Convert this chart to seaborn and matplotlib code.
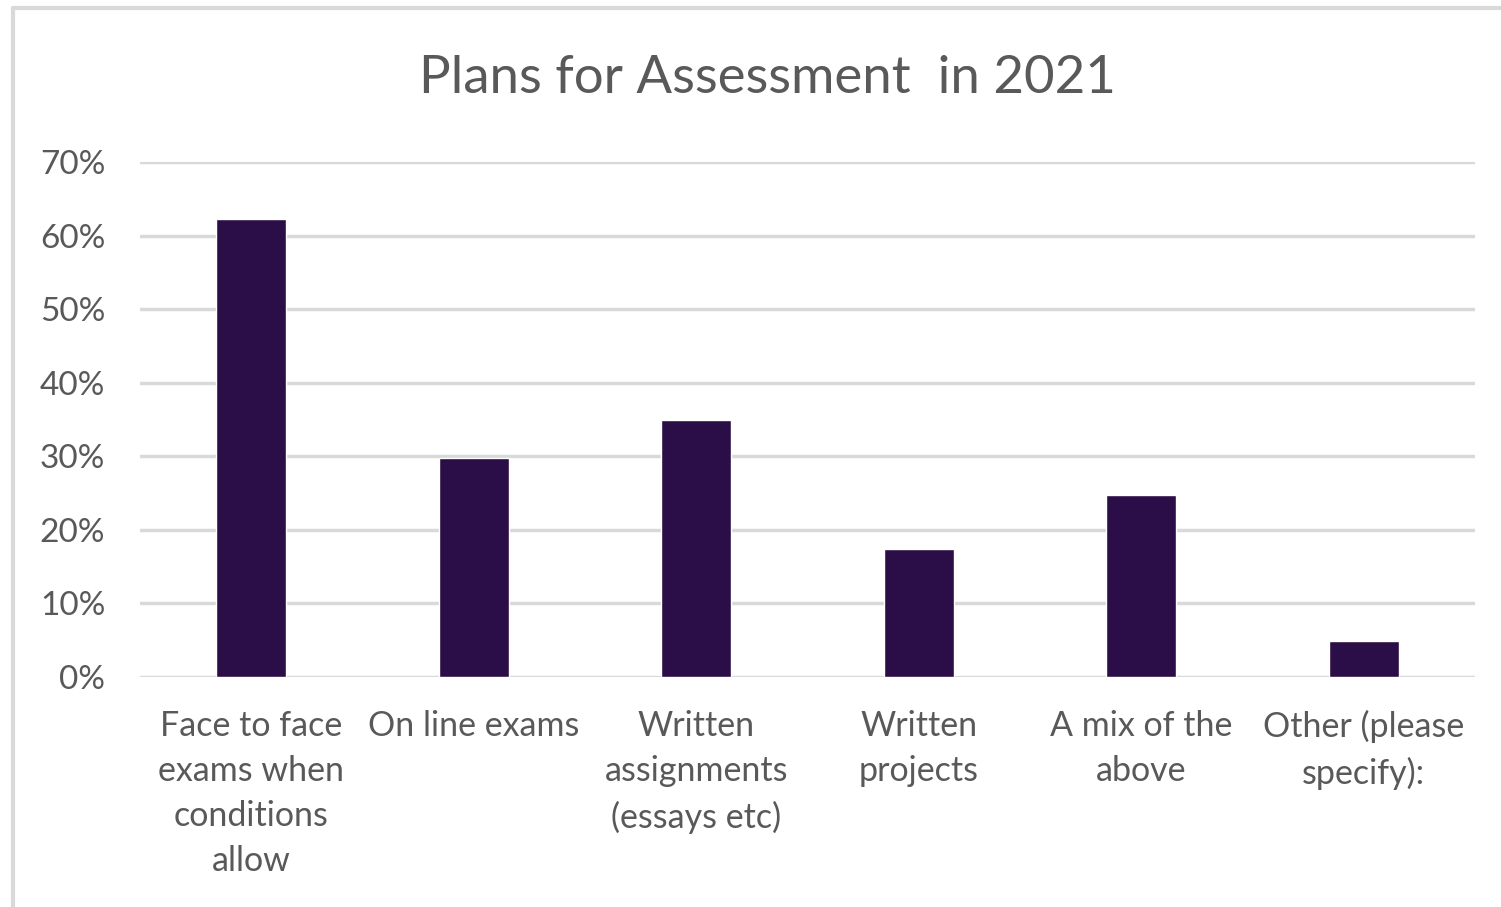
import matplotlib
matplotlib.use("Agg")
import matplotlib.pyplot as plt
import seaborn as sns
import pandas as pd
from matplotlib.lines import Line2D
from matplotlib.ticker import PercentFormatter

categories = [
    "Face to face\nexams when\nconditions\nallow",
    "On line exams",
    "Written\nassignments\n(essays etc)",
    "Written\nprojects",
    "A mix of the\nabove",
    "Other (please\nspecify):",
]
shares = [0.622, 0.297, 0.349, 0.174, 0.248, 0.049]
yticks = [0.0, 0.1, 0.2, 0.3, 0.4, 0.5, 0.6, 0.7]

sns.set_theme(style="white")
plt.rcParams["font.family"] = ["Lato", "DejaVu Sans"]

text_col = "#595959"
grid_col = "#d9d9d9"
bar_col = "#2b0d48"

df = pd.DataFrame({"category": categories, "share": shares})

fig = plt.figure(figsize=(15.01, 9.07), dpi=100)
ax = fig.add_axes([0.0933, 0.2536, 0.8894, 0.5678])

sns.barplot(data=df, x="category", y="share", color=bar_col, width=0.315,
            saturation=1, ax=ax, zorder=3)

ax.set_ylim(0, 0.7)
ax.set_xlim(-0.5, 5.5)
ax.set_yticks(yticks)
ax.yaxis.set_major_formatter(PercentFormatter(1.0, decimals=0))
ax.grid(axis="y", color=grid_col, linewidth=2.5, zorder=0)
for s in ax.spines.values():
    s.set_visible(False)
ax.tick_params(axis="y", length=0, pad=25, labelsize=24, labelcolor=text_col)
ax.tick_params(axis="x", length=0, pad=24, labelsize=24.5, labelcolor=text_col)
for lbl in ax.get_xticklabels():
    lbl.set_linespacing(1.5)
ax.set_xlabel("")
ax.set_ylabel("")

fig.text(0.511, 0.914, "Plans for Assessment  in 2021", ha="center", va="center",
         fontsize=38, color=text_col)

# light frame along top and left edges
fig.add_artist(Line2D([13 / 1501, 1.0], [1 - 8 / 907, 1 - 8 / 907],
                      color=grid_col, linewidth=3, transform=fig.transFigure))
fig.add_artist(Line2D([13 / 1501, 13 / 1501], [0.0, 1 - 8 / 907],
                      color=grid_col, linewidth=3, transform=fig.transFigure))

fig.savefig("out.png", dpi=100, facecolor="white")
